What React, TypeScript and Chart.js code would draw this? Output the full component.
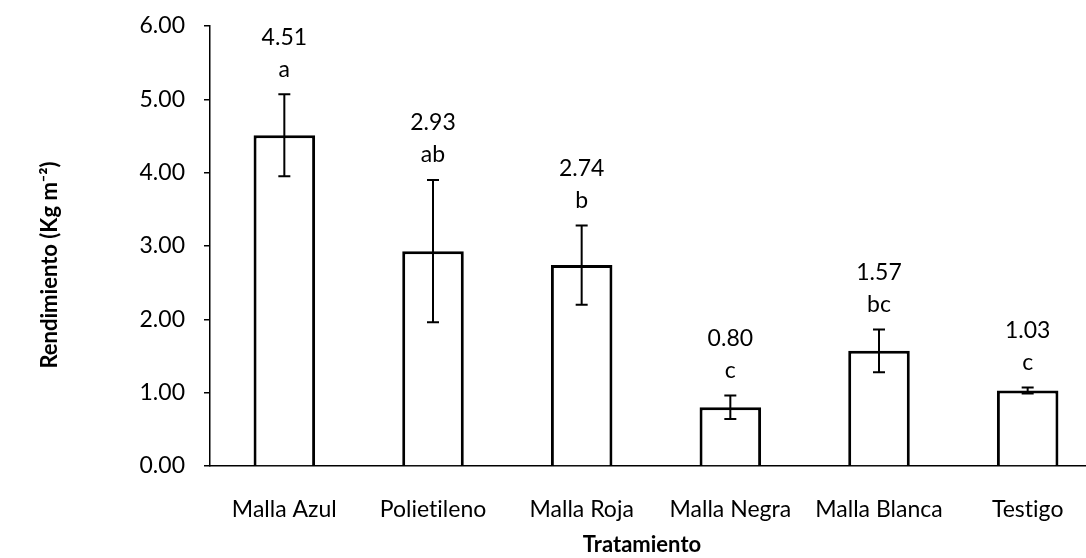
import React, { useEffect, useRef } from "react";
import { Chart, registerables } from "chart.js";

Chart.register(...registerables);

const categories = ["Malla Azul", "Polietileno", "Malla Roja", "Malla Negra", "Malla Blanca", "Testigo"];
const means = [4.51, 2.93, 2.74, 0.8, 1.57, 1.03];
const errors = [0.56, 0.97, 0.54, 0.16, 0.29, 0.04];
const letters = ["a", "ab", "b", "c", "bc", "c"];
const yTitle = "Rendimiento (Kg m⁻²)";
const xTitle = "Tratamiento";

const FONT = "Lato, 'Open Sans', sans-serif";

const overlayPlugin = {
  id: "overlay",
  beforeDraw(chart: any) {
    try {
      chart.ctx.letterSpacing = "0.01px";
    } catch (e) {}
  },
  afterDatasetsDraw(chart: any) {
    const { ctx, scales } = chart;
    const x = scales.x;
    const y = scales.y;
    ctx.save();
    ctx.strokeStyle = "#000";
    ctx.fillStyle = "#000";
    ctx.lineWidth = 2;
    means.forEach((m, i) => {
      const cx = x.getPixelForValue(i);
      const top = y.getPixelForValue(m + errors[i]);
      const bot = y.getPixelForValue(m - errors[i]);
      ctx.beginPath();
      ctx.moveTo(cx, top);
      ctx.lineTo(cx, bot);
      ctx.moveTo(cx - 6, top);
      ctx.lineTo(cx + 6, top);
      ctx.moveTo(cx - 6, bot);
      ctx.lineTo(cx + 6, bot);
      ctx.stroke();
      ctx.font = `23px ${FONT}`;
      ctx.textAlign = "center";
      ctx.textBaseline = "middle";
      ctx.fillText(m.toFixed(2), cx, top - 57);
      ctx.fillText(letters[i], cx, top - 25);
    });
    // axis titles
    ctx.font = `bold 22px ${FONT}`;
    ctx.textAlign = "center";
    ctx.textBaseline = "middle";
    ctx.fillText(xTitle, 642, 545);
    ctx.translate(50, 265);
    ctx.rotate(-Math.PI / 2);
    ctx.fillText(yTitle, 0, 0);
    ctx.restore();
  },
};

export default function App() {
  const ref = useRef<HTMLCanvasElement>(null);
  useEffect(() => {
    if (!ref.current) return;
    const chart = new Chart(ref.current, {
      type: "bar",
      data: {
        labels: categories,
        datasets: [
          {
            data: means,
            backgroundColor: "#ffffff",
            borderColor: "#000000",
            borderWidth: 3,
            barPercentage: 1,
            categoryPercentage: 0.414,
          },
        ],
      },
      options: {
        responsive: false,
        animation: false,
        devicePixelRatio: 1,
        layout: { padding: { top: 26, right: 0, left: 0, bottom: 0 } },
        plugins: { legend: { display: false }, tooltip: { enabled: false }, title: { display: false } },
        scales: {
          x: {
            grid: { display: false },
            border: { display: true, color: "#000", width: 1.5 },
            ticks: { color: "#000", font: { family: FONT, size: 23 }, padding: 22, maxRotation: 0, autoSkip: false },
            afterFit: (s: any) => {
              s.height = 92;
              s.paddingLeft = 0;
              s.paddingRight = 0;
            },
          },
          y: {
            min: 0,
            max: 6,
            grid: { display: true, drawOnChartArea: false, drawTicks: true, tickLength: 6, color: "#000", lineWidth: 1.5 },
            border: { display: true, color: "#000", width: 1.5 },
            ticks: {
              stepSize: 1,
              color: "#000",
              font: { family: FONT, size: 23 },
              padding: 19,
              callback: (v: any) => Number(v).toFixed(2),
            },
            afterFit: (s: any) => {
              s.width = 210;
              s.paddingTop = 0;
              s.paddingBottom = 0;
            },
          },
        },
      },
      plugins: [overlayPlugin],
    });
    return () => chart.destroy();
  }, []);
  return (
    <div style={{ position: "fixed", left: 0, top: 0, width: 1086, height: 558, background: "#fff", overflow: "hidden" }}>
      <canvas ref={ref} width={1102} height={558} style={{ width: 1102, height: 558, display: "block" }} />
    </div>
  );
}
